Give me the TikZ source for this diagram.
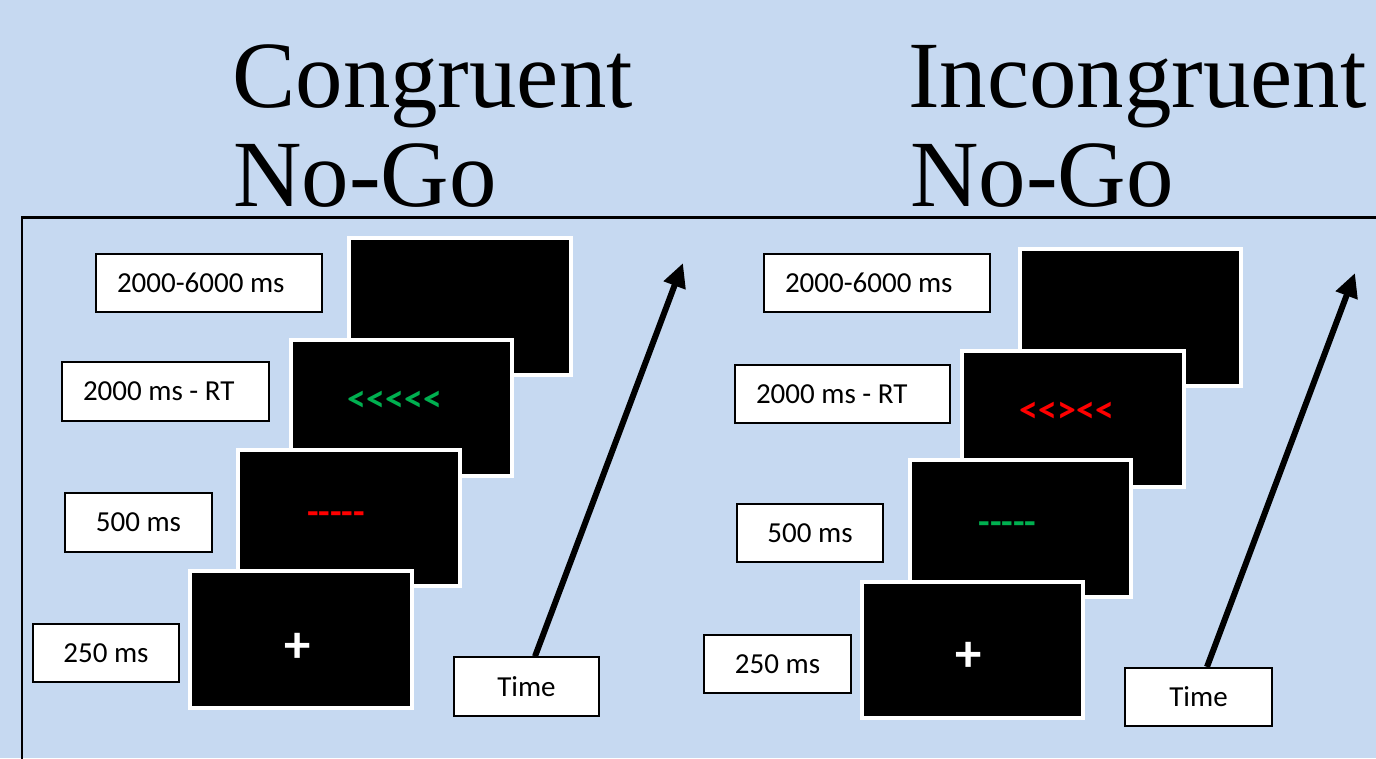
\documentclass[tikz,border=0pt]{standalone}
\usepackage{fontspec}
\setmainfont{Carlito}
\newfontfamily\titlefont{Liberation Serif}
\newfontfamily\stimfont[Ligatures=TeXOff]{Carlito}
\usetikzlibrary{arrows.meta}
\definecolor{slideblue}{RGB}{198,217,241}
\definecolor{cuegreen}{RGB}{0,176,80}

\begin{document}
\begin{tikzpicture}[x=0.02cm,y=-0.02cm,
    screen/.style={draw=white,fill=black,line width=0.08cm,minimum width=4.44cm,minimum height=2.74cm,inner sep=0pt},
    durbox/.style={draw=black,fill=white,line width=0.035cm,minimum height=1.17cm,inner sep=0pt,font=\fontsize{16.5}{20}\selectfont},
    lbox/.style={durbox,inner xsep=0.42cm},
    stim/.style={inner sep=0pt,font=\stimfont\bfseries\fontsize{21.5}{24}\selectfont},
    fixmark/.style={inner sep=0pt,text=white,font=\stimfont\bfseries\fontsize{30}{34}\selectfont},
    title/.style={anchor=base west,inner sep=0pt,font=\titlefont\fontsize{54}{60}\selectfont},
    timearrow/.style={line width=0.12cm,-{Triangle[length=0.48cm,width=0.44cm]}}]
  \fill[slideblue] (0,0) rectangle (1376,758);
  \useasboundingbox (0,0) rectangle (1376,758);
  \draw[line width=0.06cm] (22,790) -- (22,217) -- (1400,217);
  \node[title]  (congA)  at (232,107) {Congruent};
  \node[title]  (congB)  at (233,206) {No-Go};
  \node[title]  (incA)   at (908,107) {Incongruent};
  \node[title]  (incB)   at (910,206) {No-Go};
  % congruent trials
  \node[screen] (cScrA)  at (460,306.5)  {};
  \node[screen] (cScrB)  at (401.5,408)  {};
  \node[stim,text=cuegreen] (cFlank) at (395,401) {<<<<<};
  \node[screen] (cScrC)  at (349,518)    {};
  \node[stim,text=red]      (cCue)   at (336,518) {-----};
  \node[screen] (cScrD)  at (301,639.5)  {};
  \node[fixmark] (cFix)  at (298,648)    {+};
  \node[lbox] (cLabA) at (209,283)     {\hbox to 3.68cm{2000-6000 ms\hfil}};
  \node[lbox] (cLabB) at (165.5,391.5) {\hbox to 3.30cm{2000 ms - RT\hfil}};
  \node[durbox,minimum width=2.94cm] (cLabC) at (138.5,522.5) {500 ms};
  \node[durbox,minimum width=2.92cm] (cLabD) at (106,653)     {250 ms};
  \node[durbox,minimum width=2.90cm] (cTime) at (526.5,686.5) {Time};
  \coordinate (cTip) at (683,263);
  \draw[timearrow] ([xshift=0.17cm]cTime.north) -- (cTip);
  % incongruent trials
  \node[screen] (iScrA)  at (1130.5,317.5) {};
  \node[screen] (iScrB)  at (1073,419)     {};
  \node[stim,text=red]      (iFlank) at (1067,412) {<<><<};
  \node[screen] (iScrC)  at (1020.5,528.5) {};
  \node[stim,text=cuegreen] (iCue)   at (1007.5,528) {-----};
  \node[screen] (iScrD)  at (972.5,650)    {};
  \node[fixmark] (iFix)  at (969,657)      {+};
  \node[lbox] (iLabA) at (877,283)   {\hbox to 3.68cm{2000-6000 ms\hfil}};
  \node[lbox] (iLabB) at (842.5,394) {\hbox to 3.46cm{2000 ms - RT\hfil}};
  \node[durbox,minimum width=2.92cm] (iLabC) at (810,533)    {500 ms};
  \node[durbox,minimum width=2.94cm] (iLabD) at (777.5,664)  {250 ms};
  \node[durbox,minimum width=2.94cm] (iTime) at (1198.5,697) {Time};
  \coordinate (iTip) at (1355,273);
  \draw[timearrow] ([xshift=0.17cm]iTime.north) -- (iTip);
\end{tikzpicture}
\end{document}
